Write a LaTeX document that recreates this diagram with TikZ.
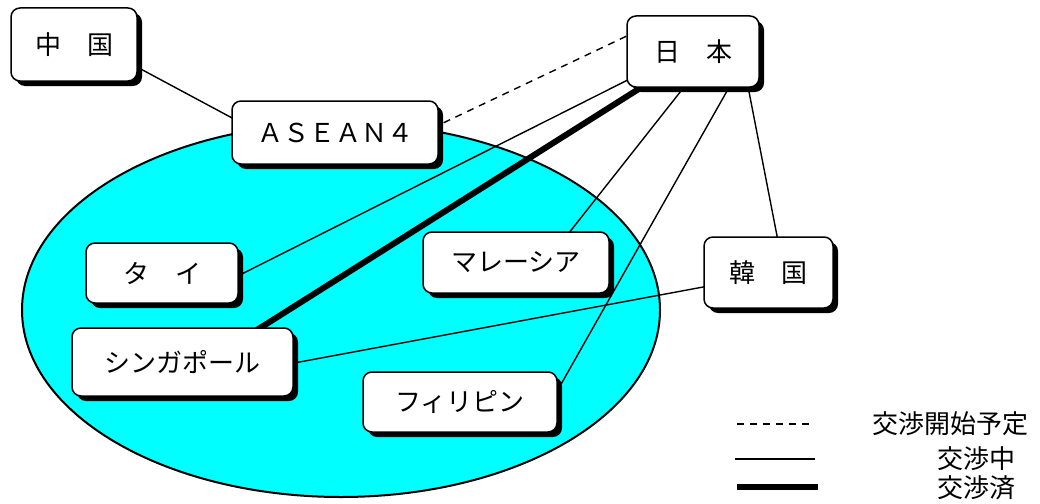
\documentclass[tikz,border=0pt]{standalone}
\usepackage{fontspec}
\setmainfont{Noto Sans CJK JP}
\usetikzlibrary{calc,shadows}
\definecolor{aquafill}{RGB}{0,255,255}
\pgfdeclarelayer{back}
\pgfdeclarelayer{lines}
\pgfsetlayers{back,lines,main}
\tikzset{
  box/.style={draw, line width=1.5pt, fill=white, rounded corners=9pt,
    inner sep=0pt, font=\fontsize{26}{30}\selectfont,
    drop shadow={shadow xshift=5pt, shadow yshift=-5pt, fill=black, opacity=1}},
  thinline/.style={line width=1.4pt},
  planned/.style={line width=1.4pt, dash pattern=on 7pt off 6pt},
  done/.style={line width=6pt},
  legtext/.style={anchor=west, inner sep=0pt, font=\fontsize{26}{30}\selectfont}
}
\begin{document}
\begin{tikzpicture}[x=1pt,y=-1pt]
\useasboundingbox (0,0) rectangle (1040,503);
\begin{pgfonlayer}{back}
\fill[white] (0,0) rectangle (1040,503);
\draw[fill=aquafill, line width=2pt] (341,310) ellipse [x radius=319, y radius=187];
\end{pgfonlayer}
% nodes
\node[box, minimum width=126pt, minimum height=73pt] (zg) at (74,44.5) {中　国};
\node[box, minimum width=206pt, minimum height=63pt] (as) at (335,132.5) {ＡＳＥＡＮ４};
\node[box, minimum width=132pt, minimum height=71pt] (nh) at (693,51.5) {日　本};
\node[box, minimum width=152pt, minimum height=60pt] (ta) at (162,273) {タ　イ};
\node[box, minimum width=221pt, minimum height=68pt] (sg) at (182.5,362) {シンガポール};
\node[box, minimum width=186pt, minimum height=61pt] (ml) at (516,262.5) {マレーシア};
\node[box, minimum width=194pt, minimum height=60pt] (ph) at (460,402) {フィリピン};
\node[box, minimum width=129pt, minimum height=71pt] (kk) at (768.5,272.5) {韓　国};
% connectors
\begin{pgfonlayer}{lines}
\draw[thinline] ($(zg.east)+(-1.5,22.1)$) -- ($(as.west)+(3.5,-13.1)$);
\draw[planned] ($(nh.north west)+(0,21)$) -- ($(as.east)+(-2,-6.5)$);
\draw[thinline] ($(nh.south west)+(11.5,-12.8)$) -- ($(ta.east)+(-2,3.5)$);
\draw[done] ($(nh.south west)+(23,-5.4)$) -- ($(sg.north west)+(183,4.4)$);
\draw[thinline] ($(nh.south west)+(60.5,-4.1)$) -- ($(ml.north west)+(142.5,7)$);
\draw[thinline] ($(nh.south west)+(106,-6)$) -- ($(ph.north east)+(-3.3,24.6)$);
\draw[thinline] ($(nh.south west)+(121,-5)$) -- ($(kk.north west)+(75,6)$);
\draw[thinline] ($(kk.west)+(8,13)$) -- ($(sg.east)+(-5,2)$);
\end{pgfonlayer}
% legend
\coordinate (l1a) at (737,424); \coordinate (l1b) at (815,424);
\coordinate (l2a) at (735,459); \coordinate (l2b) at (815,459);
\coordinate (l3a) at (737,487); \coordinate (l3b) at (818,487);
\draw[planned] (l1a) -- (l1b);
\draw[thinline] (l2a) -- (l2b);
\draw[done] (l3a) -- (l3b);
\node[legtext] (t1) at (872,424) {交渉開始予定};
\node[legtext] (t2) at (937,459) {交渉中};
\node[legtext] (t3) at (937,488) {交渉済};
\end{tikzpicture}
\end{document}
